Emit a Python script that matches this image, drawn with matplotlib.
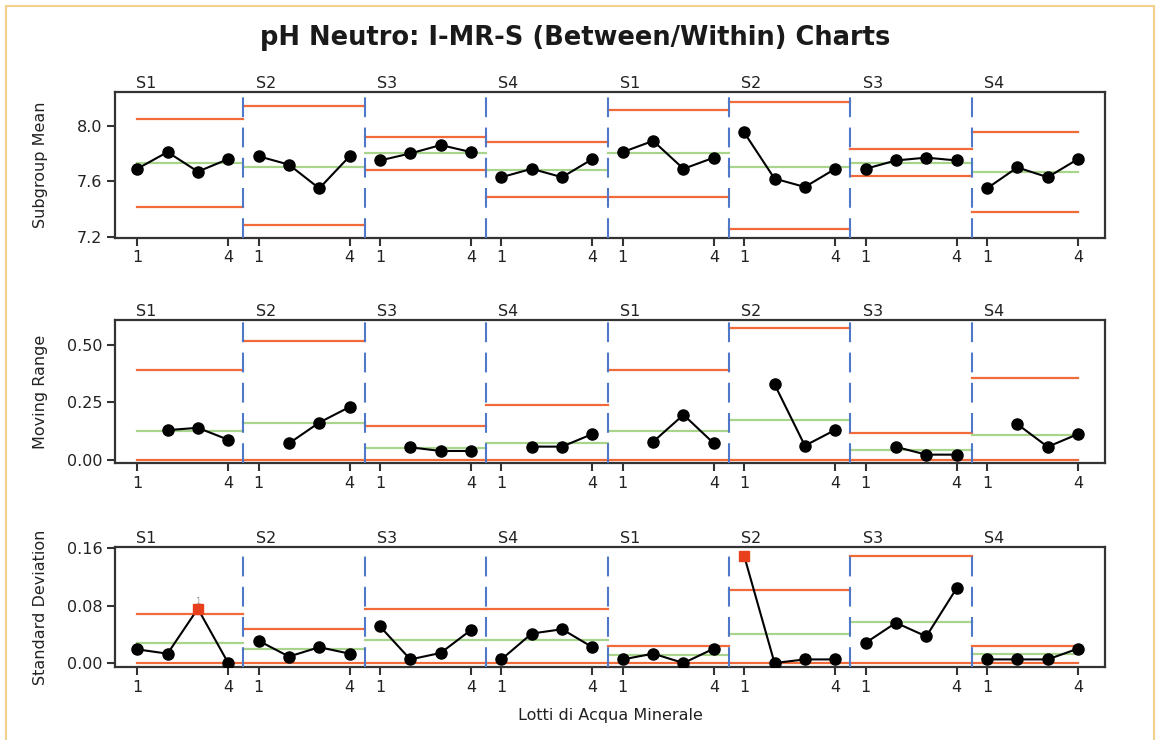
import matplotlib
matplotlib.use("Agg")
import matplotlib.pyplot as plt
from matplotlib.lines import Line2D
from matplotlib.transforms import blended_transform_factory

# stages (8 stages x 4 lots)
stages = ["S1", "S2", "S3", "S4", "S1", "S2", "S3", "S4"]
lots_per_stage = 4

# subgroup mean
mean_vals = [
    [7.69, 7.81, 7.67, 7.76],
    [7.78, 7.72, 7.55, 7.78],
    [7.75, 7.80, 7.86, 7.81],
    [7.63, 7.69, 7.63, 7.76],
    [7.81, 7.89, 7.69, 7.77],
    [7.95, 7.62, 7.56, 7.69],
    [7.69, 7.75, 7.77, 7.75],
    [7.55, 7.70, 7.63, 7.76],
]
mean_ucl = [8.05, 8.14, 7.92, 7.88, 8.11, 8.17, 7.83, 7.95]
mean_cl = [7.735, 7.705, 7.80, 7.68, 7.80, 7.70, 7.73, 7.665]
mean_lcl = [7.42, 7.29, 7.68, 7.485, 7.49, 7.26, 7.64, 7.38]

# moving range (first lot of each stage has none)
mr_vals = [
    [None, 0.129, 0.139, 0.087],
    [None, 0.071, 0.162, 0.230],
    [None, 0.054, 0.038, 0.038],
    [None, 0.057, 0.057, 0.112],
    [None, 0.078, 0.196, 0.071],
    [None, 0.329, 0.061, 0.130],
    [None, 0.056, 0.022, 0.022],
    [None, 0.155, 0.056, 0.112],
]
mr_ucl = [0.391, 0.517, 0.148, 0.240, 0.391, 0.575, 0.117, 0.358]
mr_cl = [0.126, 0.158, 0.049, 0.074, 0.126, 0.175, 0.042, 0.109]
mr_lcl = [0, 0, 0, 0, 0, 0, 0, 0]

# standard deviation
sd_vals = [
    [0.019, 0.013, 0.0756, 0.0],
    [0.031, 0.009, 0.022, 0.013],
    [0.051, 0.005, 0.014, 0.046],
    [0.005, 0.041, 0.047, 0.022],
    [0.005, 0.013, 0.0, 0.020],
    [0.149, 0.0, 0.005, 0.005],
    [0.028, 0.056, 0.037, 0.104],
    [0.005, 0.005, 0.005, 0.020],
]
sd_ucl = [0.068, 0.047, 0.075, 0.075, 0.024, 0.102, 0.149, 0.024]
sd_cl = [0.028, 0.020, 0.032, 0.032, 0.011, 0.041, 0.057, 0.012]
sd_lcl = [0, 0, 0, 0, 0, 0, 0, 0]
# out of control points: (stage, lot)
sd_flags = [(0, 2), (5, 0)]

ORANGE = "#F06A3A"
GREEN = "#A8D48C"
BLUE = "#4F78C8"
RED = "#E8401C"
FRAME = "#333333"

n_total = len(stages) * lots_per_stage

fig = plt.figure(figsize=(11.57, 7.4), dpi=100)
fig.patch.set_facecolor("white")

panels = [
    ([0.0994, 0.6784, 0.8557, 0.1973], mean_vals, mean_ucl, mean_cl, mean_lcl,
     "Subgroup Mean", (7.195, 8.24), [7.2, 7.6, 8.0], ["7.2", "7.6", "8.0"], []),
    ([0.0994, 0.3743, 0.8557, 0.1932], mr_vals, mr_ucl, mr_cl, mr_lcl,
     "Moving Range", (-0.0145, 0.609), [0, 0.25, 0.5], ["0.00", "0.25", "0.50"], []),
    ([0.0994, 0.0986, 0.8557, 0.1622], sd_vals, sd_ucl, sd_cl, sd_lcl,
     "Standard Deviation", (-0.0056, 0.1614), [0, 0.08, 0.16], ["0.00", "0.08", "0.16"], sd_flags),
]

for rect, vals, ucl, cl, lcl, ylab, ylim, yt, ytl, flags in panels:
    ax = fig.add_axes(rect)
    ax.set_xlim(0.27, n_total + 0.89)
    ax.set_ylim(*ylim)

    for k in range(len(stages)):
        x0 = k * lots_per_stage + 1
        xs = list(range(x0, x0 + lots_per_stage))
        # limit lines span stage, clipped at first/last lot
        xa = max(x0 - 0.5, 1)
        xb = min(x0 + lots_per_stage - 0.5, n_total)
        ax.plot([xa, xb], [ucl[k], ucl[k]], color=ORANGE, lw=1.6, zorder=2)
        ax.plot([xa, xb], [lcl[k], lcl[k]], color=ORANGE, lw=1.6, zorder=2)
        ax.plot([xa, xb], [cl[k], cl[k]], color=GREEN, lw=1.6, zorder=2)

        px = [x for x, v in zip(xs, vals[k]) if v is not None]
        py = [v for v in vals[k] if v is not None]
        ax.plot(px, py, color="black", lw=1.5, zorder=4)
        for i, v in enumerate(vals[k]):
            if v is None:
                continue
            if (k, i) in flags:
                ax.plot(xs[i], v, "s", color=RED, ms=6.5, zorder=5)
            else:
                ax.plot(xs[i], v, "o", color="black", ms=8, zorder=5)

        if k > 0:
            ax.axvline(x0 - 0.5, color=BLUE, lw=1.5, linestyle=(0, (9.5, 5)), zorder=3)

        # stage label above
        tr = blended_transform_factory(ax.transData, ax.transAxes)
        ax.text(max(x0 - 0.1, 0.95), 1.01, stages[k], transform=tr, ha="left", va="bottom",
                fontsize=11.5, color="#222222")

    # test number above first flagged point
    for k, i in flags[:1]:
        ax.text(k * lots_per_stage + i + 1, vals[k][i] + 0.004, "1", ha="center", va="bottom",
                fontsize=6, color="#999999")

    xt = []
    xtl = []
    for k in range(len(stages)):
        xt += [k * lots_per_stage + 1, k * lots_per_stage + lots_per_stage]
        xtl += ["1", str(lots_per_stage)]
    ax.set_xticks(xt)
    ax.set_xticklabels(xtl)
    ax.set_yticks(yt)
    ax.set_yticklabels(ytl)
    ax.tick_params(direction="out", length=6, width=1.5, colors=FRAME, labelsize=11.5,
                   labelcolor="#222222", pad=3)
    for sp in ax.spines.values():
        sp.set_color(FRAME)
        sp.set_linewidth(1.6)
    ax.set_ylabel(ylab, fontsize=11.5, color="#222222")
    ax.yaxis.set_label_coords(-0.068, 0.5)

ax.set_xlabel("Lotti di Acqua Minerale", fontsize=11.5, color="#222222", labelpad=10)

fig.text(0.497, 1 - 38 / 740, "pH Neutro: I-MR-S (Between/Within) Charts", ha="center",
         va="center", fontsize=18.5, fontweight="bold", color="#1a1a1a")

# thin tan frame around the picture
tan = "#F2D08E"
fig.add_artist(Line2D([6 / 1157, 6 / 1157], [0, 1 - 6 / 740], color=tan, lw=1.5))
fig.add_artist(Line2D([6 / 1157, 1154 / 1157], [1 - 6 / 740, 1 - 6 / 740], color=tan, lw=1.5))
fig.add_artist(Line2D([1154 / 1157, 1154 / 1157], [0, 1 - 6 / 740], color=tan, lw=1.5))

fig.savefig("out.png", dpi=100)
